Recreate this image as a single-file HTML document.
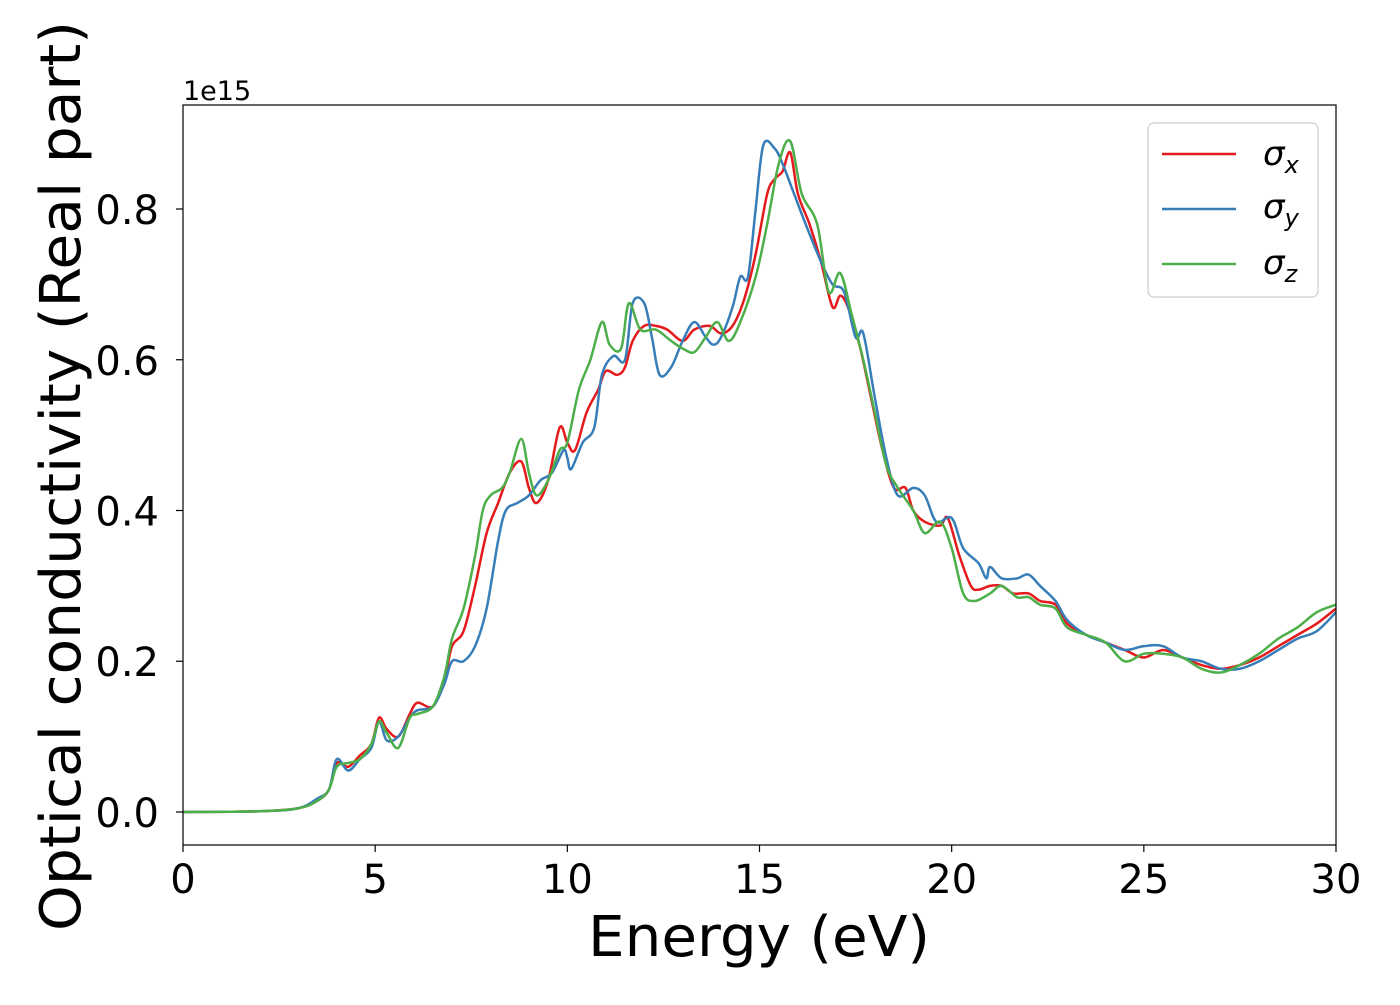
<!DOCTYPE html>
<html><head><meta charset="utf-8"><style>
body{margin:0;background:#fff}
svg text{font-family:"DejaVu Sans","Liberation Sans",sans-serif;fill:#000}
</style></head><body>
<svg id="chart" width="1400" height="1000" xmlns="http://www.w3.org/2000/svg">
<g id="plot"></g>
<g id="axes"></g>
</svg>
<script>
const xTicks=[0,5,10,15,20,25,30];
const yTicks=[0.0,0.2,0.4,0.6,0.8];
const yTickLabels=["0.0","0.2","0.4","0.6","0.8"];
const commonE=[0,2,3,3.5,3.8,4.0,4.3,4.6,4.9,5.1,5.3,5.6,5.9,6.1,6.5,6.8];
const sxLow=[0,0.001,0.005,0.015,0.03,0.065,0.06,0.075,0.09,0.125,0.11,0.1,0.13,0.145,0.14,0.175];
const syLow=[0,0.001,0.005,0.018,0.03,0.07,0.055,0.07,0.085,0.12,0.095,0.1,0.125,0.135,0.14,0.17];
const szLow=[0,0.001,0.005,0.015,0.03,0.06,0.065,0.07,0.09,0.12,0.105,0.085,0.125,0.13,0.14,0.18];
const sxE=[7.0,7.3,7.6,7.9,8.2,8.5,8.8,9.0,9.2,9.5,9.8,10.0,10.2,10.5,10.8,11.0,11.3,11.5,11.7,12.0,12.3,12.6,13.0,13.3,13.7,14.0,14.3,14.6,14.9,15.2,15.4,15.6,15.8,16.0,16.3,16.6,16.9,17.1,17.3,17.6,17.9,18.2,18.5,18.8,19.0,19.3,19.7,19.9,20.2,20.5,20.7,21.0,21.3,21.6,22.0,22.3,22.7,23.0,23.5,24.0,24.5,25.0,25.5,26.0,26.5,27.0,27.5,28.0,28.5,29.0,29.5,30];
const sxV=[0.22,0.24,0.3,0.37,0.41,0.45,0.465,0.43,0.41,0.44,0.51,0.49,0.48,0.53,0.56,0.585,0.58,0.59,0.625,0.645,0.645,0.64,0.625,0.64,0.645,0.635,0.645,0.68,0.74,0.82,0.84,0.85,0.875,0.82,0.78,0.73,0.67,0.685,0.67,0.62,0.55,0.48,0.43,0.43,0.4,0.385,0.38,0.39,0.34,0.3,0.295,0.3,0.3,0.29,0.29,0.28,0.275,0.25,0.235,0.225,0.215,0.205,0.215,0.205,0.195,0.19,0.195,0.205,0.22,0.235,0.25,0.27];
const syE=[7.0,7.3,7.6,7.9,8.2,8.4,8.7,9.0,9.3,9.6,9.9,10.0,10.1,10.4,10.7,10.9,11.2,11.5,11.7,12.0,12.2,12.4,12.7,13.0,13.3,13.6,13.8,14.0,14.3,14.5,14.7,14.9,15.1,15.4,15.6,15.9,16.2,16.6,16.9,17.2,17.5,17.7,18.0,18.3,18.6,19.0,19.3,19.6,20.0,20.3,20.7,20.9,21.0,21.3,21.7,22.0,22.3,22.7,23.0,23.5,24.0,24.5,25.0,25.5,26.0,26.5,27.0,27.5,28.0,28.5,29.0,29.5,30];
const syV=[0.2,0.2,0.22,0.27,0.36,0.4,0.41,0.42,0.44,0.45,0.48,0.47,0.455,0.49,0.51,0.58,0.605,0.6,0.675,0.675,0.63,0.58,0.59,0.625,0.65,0.63,0.62,0.63,0.67,0.71,0.71,0.8,0.885,0.88,0.86,0.82,0.78,0.73,0.7,0.69,0.63,0.635,0.55,0.47,0.42,0.43,0.42,0.385,0.39,0.35,0.33,0.31,0.325,0.31,0.31,0.315,0.3,0.28,0.255,0.235,0.225,0.215,0.22,0.22,0.205,0.2,0.19,0.19,0.2,0.215,0.23,0.24,0.265];
const szE=[7.0,7.3,7.6,7.8,8.0,8.3,8.5,8.8,9.0,9.2,9.5,9.8,10.0,10.3,10.6,10.9,11.1,11.4,11.6,11.9,12.3,12.7,13.0,13.3,13.6,13.9,14.2,14.5,14.9,15.2,15.5,15.8,16.1,16.5,16.8,17.1,17.4,17.7,18.0,18.3,18.6,19.0,19.3,19.7,20.0,20.3,20.6,21.0,21.3,21.7,22.0,22.3,22.7,23.0,23.5,24.0,24.5,25.0,25.5,26.0,26.5,27.0,27.5,28.0,28.5,29.0,29.5,30];
const szV=[0.23,0.27,0.34,0.4,0.42,0.43,0.45,0.495,0.45,0.42,0.44,0.48,0.49,0.56,0.6,0.65,0.62,0.615,0.675,0.64,0.64,0.625,0.615,0.61,0.63,0.65,0.625,0.65,0.71,0.78,0.86,0.89,0.82,0.78,0.69,0.715,0.66,0.6,0.53,0.46,0.43,0.4,0.37,0.385,0.35,0.29,0.28,0.29,0.3,0.285,0.285,0.275,0.27,0.245,0.235,0.225,0.2,0.21,0.21,0.205,0.19,0.185,0.195,0.21,0.23,0.245,0.265,0.275];
const seriesNames=["x","y","z"];
const seriesColors=["#e41a1c","#377eb8","#4daf4a"];

const X0=183,X1=1336,Y0=105,Y1=845;
const xMin=0,xMax=30,yMin=-0.0438,yMax=0.938;
const xs=v=>X0+(v-xMin)/(xMax-xMin)*(X1-X0);
const ys=v=>Y1-(v-yMin)/(yMax-yMin)*(Y1-Y0);
const NS="http://www.w3.org/2000/svg";
function mk(t,a,p){const e=document.createElementNS(NS,t);for(const k in a)e.setAttribute(k,a[k]);p.appendChild(e);return e;}
const plot=document.getElementById('plot'),axes=document.getElementById('axes');

const clip=mk('clipPath',{id:'clp'},plot);mk('rect',{x:X0,y:Y0,width:X1-X0,height:Y1-Y0},clip);
function pathFor(E,V){
  const p=E.map((e,i)=>[xs(e),ys(V[i])]);
  let d='M'+p[0][0]+','+p[0][1];
  for(let i=0;i<p.length-1;i++){
    const a=p[Math.max(i-1,0)],b=p[i],c=p[i+1],n=p[Math.min(i+2,p.length-1)];
    const c1=[b[0]+(c[0]-a[0])/6,b[1]+(c[1]-a[1])/6],c2=[c[0]-(n[0]-b[0])/6,c[1]-(n[1]-b[1])/6];
    d+='C'+c1+' '+c2+' '+c;
  }
  return d;
}
const sets=[[commonE.concat(sxE),sxLow.concat(sxV)],[commonE.concat(syE),syLow.concat(syV)],[commonE.concat(szE),szLow.concat(szV)]];
sets.forEach((s,i)=>{
  const el=mk('path',{d:pathFor(s[0],s[1]),fill:'none',stroke:seriesColors[i],'stroke-width':2.5,'clip-path':'url(#clp)'},plot);
  
  
});
const frame=mk('rect',{x:X0,y:Y0,width:X1-X0,height:Y1-Y0,fill:'none',stroke:'#000','stroke-width':1.2},axes);


xTicks.forEach(t=>{
  const x=xs(t);
  mk('line',{x1:x,x2:x,y1:Y1,y2:Y1+7,stroke:'#000','stroke-width':1.2},axes);
  const tx=mk('text',{x:x,y:Y1+48,'text-anchor':'middle','font-size':40},axes);tx.textContent=t;
  
  
});
yTicks.forEach((t,i)=>{
  const y=ys(t);
  mk('line',{x1:X0-7,x2:X0,y1:y,y2:y,stroke:'#000','stroke-width':1.2},axes);
  const tx=mk('text',{x:X0-24,y:y+15,'text-anchor':'end','font-size':40},axes);tx.textContent=yTickLabels[i];
  
  
});
</script>
<svg style="position:absolute;left:0;top:0" width="1400" height="1000" xmlns="http://www.w3.org/2000/svg">
<text x="183" y="100" font-size="27">1e15</text>
<text x="759" y="956" text-anchor="middle" font-size="56" textLength="342" lengthAdjust="spacingAndGlyphs">Energy (eV)</text>
<text transform="translate(80,476) rotate(-90)" text-anchor="middle" font-size="56" textLength="910" lengthAdjust="spacingAndGlyphs">Optical conductivity (Real part)</text>
<g>
<rect x="1148" y="123" width="170" height="174" rx="6" fill="#fff" stroke="#ccc" stroke-width="1.2" fill-opacity="0.8"/>
<line x1="1162" x2="1236" y1="154" y2="154" stroke="#e41a1c" stroke-width="2.5"/>
<text x="1263" y="165" font-size="34" font-style="italic">σ<tspan font-size="24" dy="8">x</tspan></text>
<line x1="1162" x2="1236" y1="209" y2="209" stroke="#377eb8" stroke-width="2.5"/>
<text x="1263" y="218" font-size="34" font-style="italic">σ<tspan font-size="24" dy="8">y</tspan></text>
<line x1="1162" x2="1236" y1="264" y2="264" stroke="#4daf4a" stroke-width="2.5"/>
<text x="1263" y="274" font-size="34" font-style="italic">σ<tspan font-size="24" dy="8">z</tspan></text>
</g>
</svg>
</body></html>
